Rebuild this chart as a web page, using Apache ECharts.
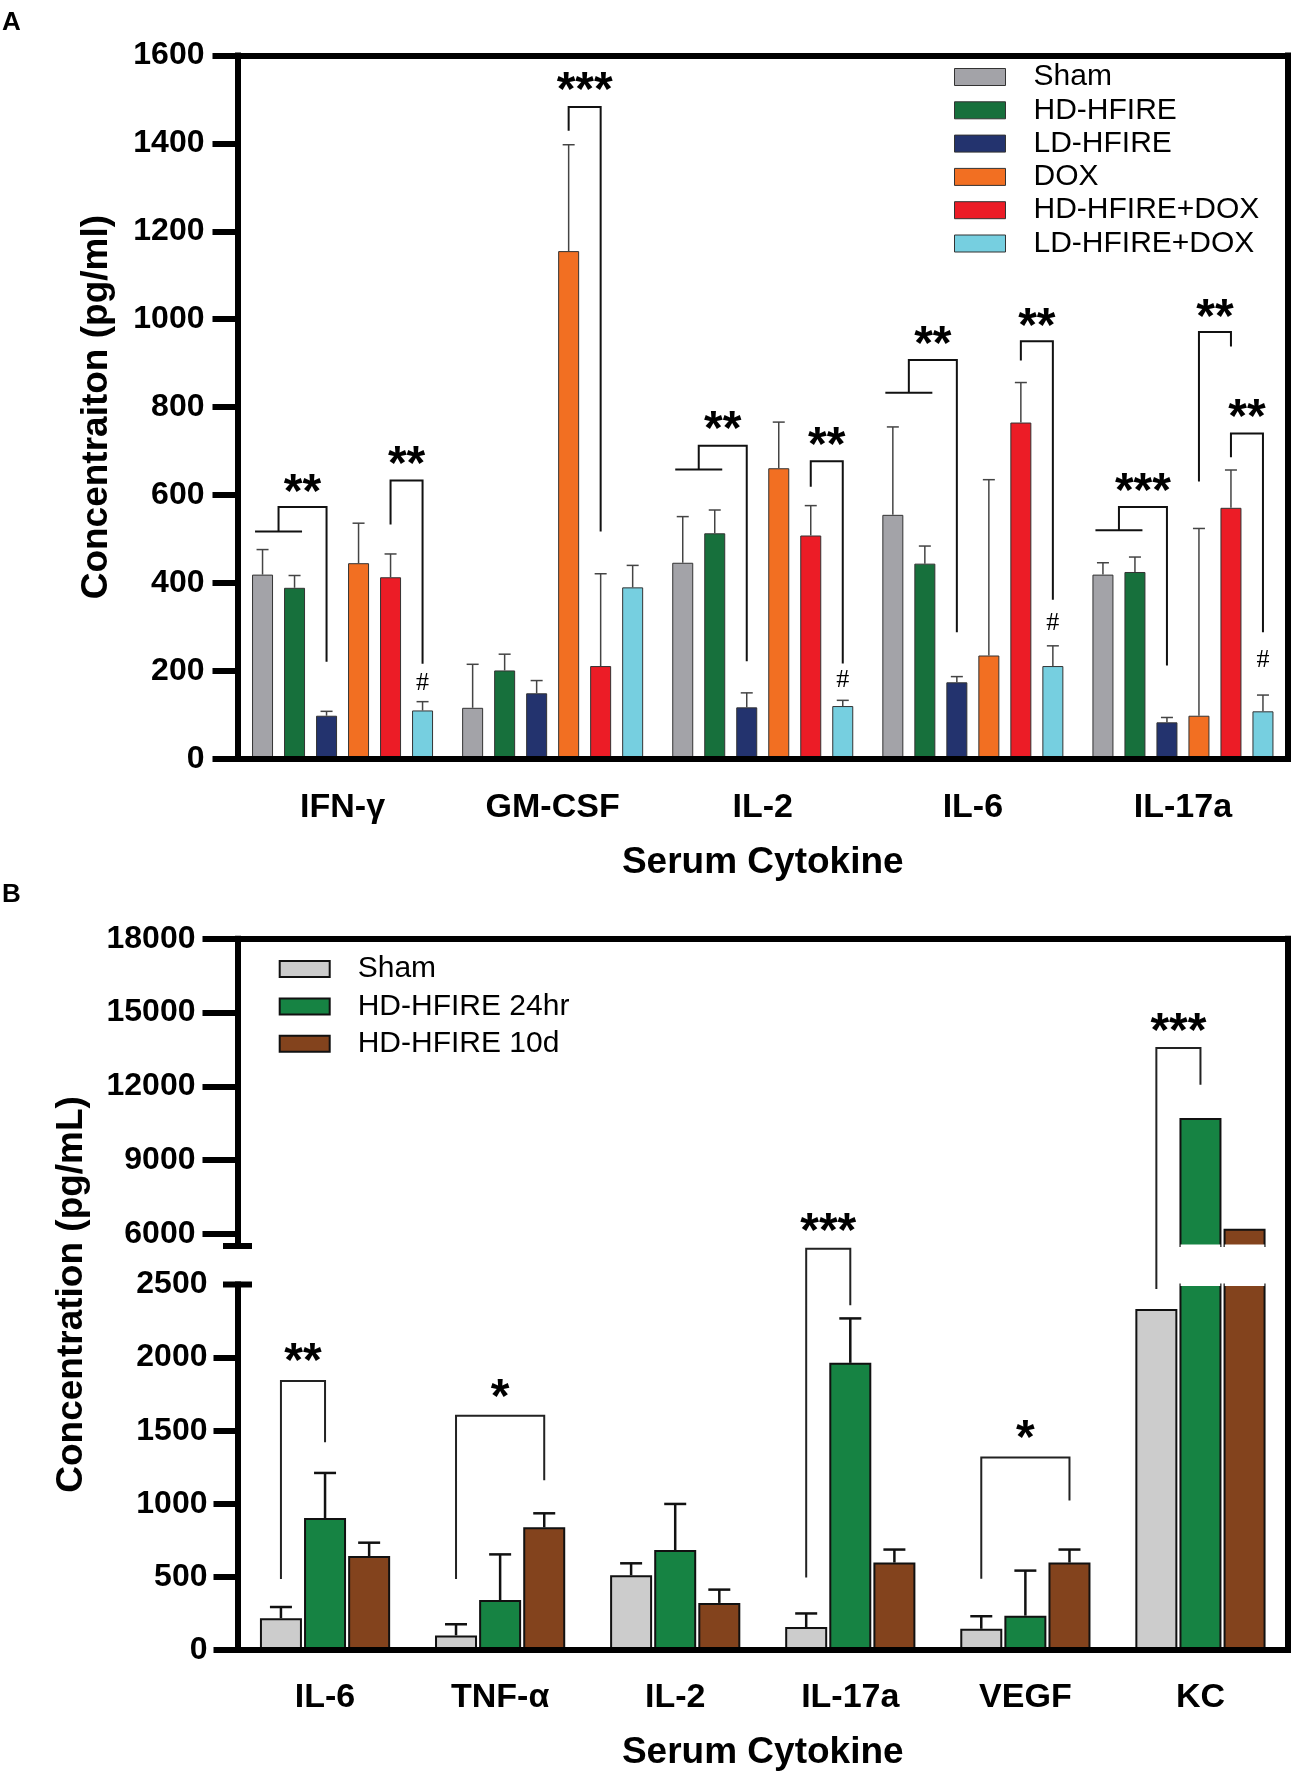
<!DOCTYPE html>
<html>
<head>
<meta charset="utf-8">
<script src="https://cdn.jsdelivr.net/npm/echarts@6/dist/echarts.min.js"></script>
<style>
html,body{margin:0;padding:0;background:#fff;}
#c{width:1293px;height:1775px;}
</style>
</head>
<body>
<div id="c"></div>
<script>
// ---------------- DATA: panel A ----------------
const catsA = ['IFN-γ', 'GM-CSF', 'IL-2', 'IL-6', 'IL-17a'];
const groupsA = ['Sham', 'HD-HFIRE', 'LD-HFIRE', 'DOX', 'HD-HFIRE+DOX', 'LD-HFIRE+DOX'];
const shamA       = [419, 116, 446, 555, 419];
const shamA_sd    = [57, 99, 105, 200, 27];
const hdA         = [389, 201, 513, 444, 425];
const hdA_sd      = [28, 37, 53, 40, 34];
const ldA         = [98, 149, 117, 174, 83];
const ldA_sd      = [10, 29, 33, 13, 11];
const doxA        = [445, 1155, 661, 235, 98];
const doxA_sd     = [91, 242, 105, 400, 426];
const hdDoxA      = [413, 211, 508, 765, 571];
const hdDoxA_sd   = [53, 210, 68, 91, 86];
const ldDoxA      = [110, 390, 120, 211, 108];
const ldDoxA_sd   = [20, 50, 13, 46, 37];
const ticksA      = [0, 200, 400, 600, 800, 1000, 1200, 1400, 1600];
// brackets: [category, fromBars, toBar, startY, topY, endY, label, labelY]
const bracketsA = [
  [0, [0, 1], 2, 517, 573, 221, '**', 628],
  [0, [4], 5, 533, 633, 216, '**', 691],
  [1, [3], 4, 1429, 1483, 517, '***', 1541],
  [2, [0, 1], 2, 658, 712, 222, '**', 771],
  [2, [4], 5, 619, 677, 217, '**', 734],
  [3, [0, 1], 2, 833, 907, 288, '**', 963],
  [3, [4], 5, 906, 950, 362, '**', 1005],
  [4, [0, 1], 2, 520, 573, 212, '***', 630],
  [4, [3], 4, 631, 971, 938, '**', 1025],
  [4, [4], 5, 686, 740, 288, '**', 797]
];
// '#' marks above LD-HFIRE+DOX: [category, y]
const hashA = [[0, 173], [2, 179], [3, 309], [4, 225]];

// ---------------- DATA: panel B ----------------
const catsB = ['IL-6', 'TNF-α', 'IL-2', 'IL-17a', 'VEGF', 'KC'];
const groupsB = ['Sham', 'HD-HFIRE 24hr', 'HD-HFIRE 10d'];
const shamB     = [217, 100, 511, 157, 145, 2332];
const shamB_sd  = [77, 76, 82, 93, 86, null];
const h24B      = [903, 342, 684, 1964, 235, 10713];
const h24B_sd   = [308, 312, 315, 304, 308, null];
const d10B      = [643, 839, 322, 598, 598, 6199];
const d10B_sd   = [91, 96, 91, 89, 89, null];
const ticksBLow = [0, 500, 1000, 1500, 2000, 2500];
const ticksBUp  = [6000, 9000, 12000, 15000, 18000];
const bracketsB = [
  [0, [0], 1, 486, 1840, 1421, '**', 2034],
  [1, [0], 2, 486, 1603, 1161, '*', 1794],
  [3, [0], 1, 496, 2745, 2358, '***', 6477],
  [4, [0], 2, 488, 1316, 1023, '*', 1507],
  [5, [0], 1, 2469, 13560, 12060, '***', 14622]
];

const meansA = [shamA, hdA, ldA, doxA, hdDoxA, ldDoxA];
const sdsA = [shamA_sd, hdA_sd, ldA_sd, doxA_sd, hdDoxA_sd, ldDoxA_sd];
const meansB = [shamB, h24B, d10B];
const sdsB = [shamB_sd, h24B_sd, d10B_sd];

// ---------------- STYLE ----------------
const FONT = '"Liberation Sans", Arial, Helvetica, sans-serif';
const colorsA = ['#a3a3a8', '#17703c', '#23336e', '#f26f22', '#ec1c26', '#76cfe0'];
const colorsB = ['#cccccc', '#168343', '#83431d'];
const BW_A = 21, GAP_A = 0.524, PITCH_A = BW_A * (1 + GAP_A);
const BW_B = 42, GAP_B = 0.05, PITCH_B = BW_B * (1 + GAP_B);
const LOW_MAX = 2500, UP_MIN = 5500, UP_MAX = 18000;
const STAR_FS = 48;

const chart = echarts.init(document.getElementById('c'));

const axisLineStyle = { color: '#000', width: 6, cap: 'square' };
const plain = v => String(v);
const labelStyle = (fs, m) => ({ color: '#000', fontSize: fs, fontWeight: 'bold', fontFamily: FONT, margin: m });
const numLabelStyle = (fs, m) => Object.assign(labelStyle(fs, m), { formatter: plain });

function errBar(api, i, m, e, off, capHalf, lw, color) {
  const p0 = api.coord([i, m]);
  const p1 = api.coord([i, m + e]);
  const x = p0[0] + off;
  return {
    type: 'group',
    children: [
      { type: 'line', shape: { x1: x, y1: p0[1], x2: x, y2: p1[1] }, style: { stroke: color, lineWidth: lw } },
      { type: 'line', shape: { x1: x - capHalf, y1: p1[1], x2: x + capHalf, y2: p1[1] }, style: { stroke: color, lineWidth: lw } }
    ]
  };
}

function bracket(api, b, yPix, pitch, nBars, lw, color) {
  const cat = b[0], from = b[1], to = b[2], yS = b[3], yT = b[4], yE = b[5], txt = b[6], yL = b[7];
  const cx = api.coord([cat, 0])[0];
  const bx = s => cx + (s - (nBars - 1) / 2) * pitch;
  const ch = [];
  let lx;
  if (from.length > 1) {
    const a0 = bx(from[0]), a1 = bx(from[from.length - 1]);
    lx = (a0 + a1) / 2;
    ch.push({ type: 'line', shape: { x1: a0 - 7.5, y1: yPix(yS), x2: a1 + 7.5, y2: yPix(yS) }, style: { stroke: color, lineWidth: lw } });
  } else {
    lx = bx(from[0]);
  }
  const rx = bx(to);
  ch.push({
    type: 'polyline',
    shape: { points: [[lx, yPix(yS)], [lx, yPix(yT)], [rx, yPix(yT)], [rx, yPix(yE)]] },
    style: { stroke: color, lineWidth: lw, fill: 'none', lineJoin: 'miter' }
  });
  ch.push({
    type: 'text', x: (lx + rx) / 2, y: yPix(yL) + 0.22 * STAR_FS,
    style: { text: txt, fill: '#000', fontSize: STAR_FS, fontWeight: 'bold', fontFamily: FONT, align: 'center', verticalAlign: 'middle' }
  });
  return { type: 'group', children: ch };
}

const series = [];
// Panel A bars
groupsA.forEach((name, s) => {
  series.push({
    type: 'bar', name: name, xAxisIndex: 0, yAxisIndex: 0, data: meansA[s],
    barWidth: BW_A, barGap: (GAP_A * 100) + '%', z: 2, silent: true,
    itemStyle: { color: colorsA[s], borderColor: '#333', borderWidth: 1 }
  });
});
// Panel A error bars
groupsA.forEach((name, s) => {
  series.push({
    type: 'custom', xAxisIndex: 0, yAxisIndex: 0, z: 3, silent: true,
    data: meansA[s].map((m, i) => [i, m, sdsA[s][i]]),
    renderItem: (p, api) => errBar(api, api.value(0), api.value(1), api.value(2), (s - 2.5) * PITCH_A, 6, 1.5, '#444')
  });
});
// Panel A brackets
series.push({
  type: 'custom', xAxisIndex: 0, yAxisIndex: 0, z: 4, silent: true,
  data: bracketsA.map(b => [b[0], b[4]]),
  renderItem: (p, api) => bracket(api, bracketsA[p.dataIndex], v => api.coord([0, v])[1], PITCH_A, 6, 2, '#111')
});
series.push({
  type: 'custom', xAxisIndex: 0, yAxisIndex: 0, z: 4, silent: true,
  data: hashA,
  renderItem: (p, api) => {
    const c = api.coord([api.value(0), api.value(1)]);
    return { type: 'text', x: c[0] + 2.5 * PITCH_A, y: c[1],
      style: { text: '#', fill: '#000', fontSize: 26, fontFamily: '"Liberation Serif", "Times New Roman", serif', align: 'center', verticalAlign: 'middle' } };
  }
});

// Panel B bars: upper (broken) and lower segments
groupsB.forEach((name, s) => {
  series.push({
    type: 'bar', name: name, xAxisIndex: 2, yAxisIndex: 2, clip: true,
    data: meansB[s].map(v => (v > UP_MIN ? v : '-')),
    barWidth: BW_B, barGap: (GAP_B * 100) + '%', z: 2, silent: true,
    itemStyle: { color: colorsB[s], borderColor: '#111', borderWidth: 2 }
  });
});
groupsB.forEach((name, s) => {
  series.push({
    type: 'bar', name: name, xAxisIndex: 3, yAxisIndex: 3, clip: true,
    data: meansB[s],
    barWidth: BW_B, barGap: (GAP_B * 100) + '%', z: 2, silent: true,
    itemStyle: { color: colorsB[s], borderColor: '#111', borderWidth: 2 }
  });
});
groupsB.forEach((name, s) => {
  series.push({
    type: 'custom', xAxisIndex: 3, yAxisIndex: 3, z: 3, silent: true,
    data: meansB[s].map((m, i) => [i, m, sdsB[s][i]]).filter(d => d[2] != null),
    renderItem: (p, api) => errBar(api, api.value(0), api.value(1), api.value(2), (s - 1) * PITCH_B, 11, 2.5, '#111')
  });
});
// break caps + masking of cut bar edges
series.push({
  type: 'custom', xAxisIndex: 3, yAxisIndex: 3, z: 3, silent: true, data: [[0, 0]],
  renderItem: (p, api) => {
    const cs = p.coordSys, ch = [];
    ch.push({ type: 'line', shape: { x1: cs.x - 14.5, y1: cs.y, x2: cs.x + 14.5, y2: cs.y }, style: { stroke: '#000', lineWidth: 6 } });
    meansB.forEach((arr, s) => arr.forEach((v, i) => {
      if (v > LOW_MAX) {
        const x = api.coord([i, 0])[0] + (s - 1) * PITCH_B;
        ch.push({ type: 'rect', shape: { x: x - BW_B / 2 + 1.2, y: cs.y - 1.8, width: BW_B - 2.4, height: 3.4 }, style: { fill: '#fff' } });
      }
    }));
    return { type: 'group', children: ch };
  }
});
series.push({
  type: 'custom', xAxisIndex: 2, yAxisIndex: 2, z: 3, silent: true, data: [[0, UP_MAX]],
  renderItem: (p, api) => {
    const cs = p.coordSys, ch = [];
    const yb = cs.y + cs.height;
    ch.push({ type: 'line', shape: { x1: cs.x - 14.5, y1: yb, x2: cs.x + 14.5, y2: yb }, style: { stroke: '#000', lineWidth: 6 } });
    meansB.forEach((arr, s) => arr.forEach((v, i) => {
      if (v > UP_MIN) {
        const x = api.coord([i, UP_MAX])[0] + (s - 1) * PITCH_B;
        ch.push({ type: 'rect', shape: { x: x - BW_B / 2 + 1.2, y: yb - 1.6, width: BW_B - 2.4, height: 3.4 }, style: { fill: '#fff' } });
      }
    }));
    return { type: 'group', children: ch };
  }
});
// Panel B brackets (values above the break are mapped through the upper axis)
series.push({
  type: 'custom', xAxisIndex: 3, yAxisIndex: 3, z: 4, silent: true,
  data: bracketsB.map(b => [b[0], b[3]]),
  renderItem: (p, api) => {
    const yPix = v => {
      if (v >= 5000) {
        try {
          const r = chart.convertToPixel({ yAxisIndex: 2 }, v);
          if (isFinite(r)) return r;
        } catch (e) {}
      }
      return api.coord([0, v])[1];
    };
    return bracket(api, bracketsB[p.dataIndex], yPix, PITCH_B, 3, 2, '#222');
  }
});

const option = {
  animation: false,
  backgroundColor: '#fff',
  title: [
    { text: 'A', left: 0, top: 8, padding: 2, textStyle: { fontSize: 26, fontWeight: 'bold', fontFamily: FONT, color: '#000' } },
    { text: 'B', left: 0, top: 880, padding: 2, textStyle: { fontSize: 26, fontWeight: 'bold', fontFamily: FONT, color: '#000' } }
  ],
  legend: [
    {
      orient: 'vertical', left: 949, top: 55.5, itemWidth: 51, itemHeight: 17, itemGap: 0.3,
      selectedMode: false, icon: 'rect',
      data: groupsA.map((n, s) => ({ name: n, itemStyle: { color: colorsA[s], borderColor: '#333', borderWidth: 1 } })),
      textStyle: { fontSize: 30, fontFamily: FONT, color: '#000', lineHeight: 33, padding: [0, 0, 0, 23] }
    },
    {
      orient: 'vertical', left: 273.7, top: 945.3, itemWidth: 50, itemHeight: 16, itemGap: 0,
      selectedMode: false, icon: 'rect',
      data: groupsB.map((n, s) => ({ name: n, itemStyle: { color: colorsB[s], borderColor: '#111', borderWidth: 2 } })),
      textStyle: { fontSize: 30, fontFamily: FONT, color: '#000', lineHeight: 37.4, padding: [0, 0, 0, 23] }
    }
  ],
  grid: [
    { left: 237.5, right: 5, top: 55.5, bottom: 1016.2 },
    { left: 237.5, right: 5, top: 938.8, bottom: 529 },
    { left: 237.5, right: 5, top: 1284.5, bottom: 125 },
    { left: 237.5, right: 5, top: 938.8, bottom: 125 }
  ],
  xAxis: [
    {
      gridIndex: 0, type: 'category', data: catsA, z: 6,
      axisLine: { onZero: false, lineStyle: axisLineStyle },
      axisTick: { alignWithLabel: true, length: 23, lineStyle: { color: '#000', width: 6 } },
      axisLabel: labelStyle(34, 32),
      name: 'Serum Cytokine', nameLocation: 'middle', nameGap: 85,
      nameTextStyle: { color: '#000', fontSize: 37, fontWeight: 'bold', fontFamily: FONT }
    },
    {
      gridIndex: 0, type: 'value', position: 'top', min: 0, max: 1, z: 6,
      axisLine: { show: true, onZero: false, lineStyle: axisLineStyle },
      axisTick: { show: false }, axisLabel: { show: false }, splitLine: { show: false }
    },
    { gridIndex: 1, type: 'category', data: catsB, show: false },
    {
      gridIndex: 2, type: 'category', data: catsB, z: 6,
      axisLine: { onZero: false, lineStyle: axisLineStyle },
      axisTick: { alignWithLabel: true, length: 23, lineStyle: { color: '#000', width: 6 } },
      axisLabel: labelStyle(34, 31),
      name: 'Serum Cytokine', nameLocation: 'middle', nameGap: 84,
      nameTextStyle: { color: '#000', fontSize: 37, fontWeight: 'bold', fontFamily: FONT }
    },
    {
      gridIndex: 3, type: 'value', position: 'top', min: 0, max: 1, z: 6,
      axisLine: { show: true, onZero: false, lineStyle: axisLineStyle },
      axisTick: { show: false }, axisLabel: { show: false }, splitLine: { show: false }
    }
  ],
  yAxis: [
    {
      gridIndex: 0, type: 'value', min: ticksA[0], max: ticksA[ticksA.length - 1], interval: ticksA[1] - ticksA[0], z: 6,
      axisLine: { show: true, onZero: false, lineStyle: axisLineStyle },
      axisTick: { show: true, length: 25, lineStyle: { color: '#000', width: 6 } },
      axisLabel: numLabelStyle(32, 33), splitLine: { show: false },
      name: 'Concentraiton (pg/ml)', nameLocation: 'middle', nameGap: 122, nameRotate: 90,
      nameTextStyle: { color: '#000', fontSize: 37, fontWeight: 'bold', fontFamily: FONT }
    },
    {
      gridIndex: 0, type: 'value', position: 'right', min: 0, max: 1, z: 6,
      axisLine: { show: true, onZero: false, lineStyle: axisLineStyle },
      axisTick: { show: false }, axisLabel: { show: false }, splitLine: { show: false }
    },
    {
      gridIndex: 1, type: 'value', min: UP_MIN, max: UP_MAX, z: 6,
      axisLine: { show: true, onZero: false, lineStyle: axisLineStyle },
      axisTick: { show: true, length: 35, customValues: ticksBUp, lineStyle: { color: '#000', width: 6 } },
      axisLabel: Object.assign(numLabelStyle(32, 42), { customValues: ticksBUp }),
      splitLine: { show: false }
    },
    {
      gridIndex: 2, type: 'value', min: 0, max: LOW_MAX, interval: ticksBLow[1] - ticksBLow[0], z: 6,
      axisLine: { show: true, onZero: false, lineStyle: axisLineStyle },
      axisTick: { show: true, length: 24, customValues: ticksBLow.slice(0, -1), lineStyle: { color: '#000', width: 6 } },
      axisLabel: numLabelStyle(32, 30),
      splitLine: { show: false }
    },
    {
      gridIndex: 3, type: 'value', position: 'left', min: 0, max: 1,
      axisLine: { show: false }, axisTick: { show: false }, axisLabel: { show: false }, splitLine: { show: false },
      name: 'Concentration (pg/mL)', nameLocation: 'middle', nameGap: 147, nameRotate: 90,
      nameTextStyle: { color: '#000', fontSize: 37, fontWeight: 'bold', fontFamily: FONT }
    },
    {
      gridIndex: 3, type: 'value', position: 'right', min: 0, max: 1, z: 6,
      axisLine: { show: true, onZero: false, lineStyle: axisLineStyle },
      axisTick: { show: false }, axisLabel: { show: false }, splitLine: { show: false }
    }
  ],
  series: series
};
chart.setOption(option);
</script>
</body>
</html>
